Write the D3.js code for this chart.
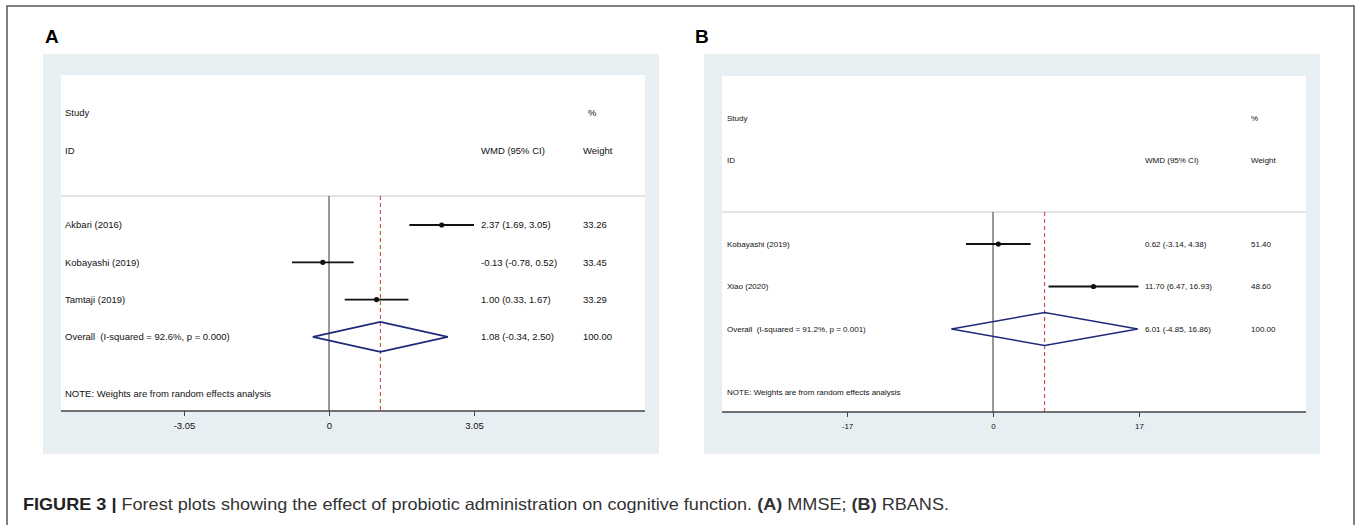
<!DOCTYPE html>
<html>
<head>
<meta charset="utf-8">
<script src="https://cdn.jsdelivr.net/npm/d3@7/dist/d3.min.js"></script>
<style>
  html, body { margin: 0; padding: 0; background: #ffffff; }
  svg { display: block; font-family: "Liberation Sans", Arial, Helvetica, sans-serif; }
</style>
</head>
<body>
<svg id="chart" width="1357" height="525"></svg>
<script>
// ---------- DATA ----------
// Panel A (MMSE)
const studiesA = ["Akbari (2016)", "Kobayashi (2019)", "Tamtaji (2019)"];
const estA = [2.37, -0.13, 1.00];
const lowA = [1.69, -0.78, 0.33];
const highA = [3.05, 0.52, 1.67];
const weightA = [33.26, 33.45, 33.29];
const overallA = [1.08, -0.34, 2.50];
const overallLabelA = "Overall  (I-squared = 92.6%, p = 0.000)";
const ticksA = [-3.05, 0, 3.05];

// Panel B (RBANS)
const studiesB = ["Kobayashi (2019)", "Xiao (2020)"];
const estB = [0.62, 11.70];
const lowB = [-3.14, 6.47];
const highB = [4.38, 16.93];
const weightB = [51.40, 48.60];
const overallB = [6.01, -4.85, 16.86];
const overallLabelB = "Overall  (I-squared = 91.2%, p = 0.001)";
const ticksB = [-17, 0, 17];

const noteText = "NOTE: Weights are from random effects analysis";
const headers = { study: "Study", id: "ID", wmd: "WMD (95% CI)", pct: "%", weight: "Weight" };

// ---------- DRAW ----------
const svg = d3.select("#chart");
const loc = d3.formatLocale({ decimal: ".", thousands: ",", grouping: [3], currency: ["", ""], minus: "-" });
const f2 = loc.format(".2f");

// outer frame
svg.append("rect").attr("x", 7).attr("y", 6).attr("width", 1347).attr("height", 540)
  .attr("fill", "none").attr("stroke", "#555").attr("stroke-width", 1.5);

function drawPanel(cfg) {
  const g = svg.append("g");
  g.append("text").attr("x", cfg.labelX).attr("y", 43).text(cfg.letter)
    .attr("font-size", 19).attr("font-weight", "bold").attr("fill", "#000");
  g.append("rect").attr("x", cfg.bgX0).attr("y", 54).attr("width", cfg.bgX1 - cfg.bgX0).attr("height", 400)
    .attr("fill", "#e7eff2");
  g.append("rect").attr("x", cfg.wX0).attr("y", cfg.wY0).attr("width", cfg.wX1 - cfg.wX0).attr("height", cfg.axisY - cfg.wY0)
    .attr("fill", "#ffffff");

  const x = d3.scaleLinear().domain(cfg.tickDomain).range(cfg.tickRange);
  const fs = cfg.fontSize;
  const txt = (xx, yy, s) => g.append("text").attr("x", xx).attr("y", yy).attr("dy", "0.35em")
      .attr("font-size", fs).attr("fill", "#111").style("white-space", "pre").text(s);

  txt(cfg.colStudy, cfg.yStudy, headers.study);
  txt(cfg.colStudy, cfg.yID, headers.id);
  txt(cfg.colWMD, cfg.yID, headers.wmd);
  txt(cfg.colPct, cfg.yStudy, headers.pct);
  txt(cfg.colWeight, cfg.yID, headers.weight);

  g.append("line").attr("x1", cfg.wX0).attr("x2", cfg.wX1).attr("y1", cfg.ySep).attr("y2", cfg.ySep)
    .attr("stroke", "#c8c8c8").attr("stroke-width", 1.2);

  g.append("line").attr("x1", x(0)).attr("x2", x(0)).attr("y1", cfg.ySep).attr("y2", cfg.axisY)
    .attr("stroke", "#555").attr("stroke-width", 1.2);
  g.append("line").attr("x1", x(cfg.overall[0])).attr("x2", x(cfg.overall[0])).attr("y1", cfg.ySep).attr("y2", cfg.axisY)
    .attr("stroke", "#c0392b").attr("stroke-width", 1).attr("stroke-dasharray", "4,3");

  const rowY = i => cfg.yFirst + i * cfg.rowStep;

  cfg.studies.forEach((s, i) => {
    const y = rowY(i);
    txt(cfg.colStudy, y, s);
    g.append("line").attr("x1", x(cfg.low[i])).attr("x2", x(cfg.high[i])).attr("y1", y).attr("y2", y)
      .attr("stroke", "#111").attr("stroke-width", 1.8);
    g.append("circle").attr("cx", x(cfg.est[i])).attr("cy", y).attr("r", 2.6).attr("fill", "#111");
    txt(cfg.colWMD, y, `${f2(cfg.est[i])} (${f2(cfg.low[i])}, ${f2(cfg.high[i])})`);
    txt(cfg.colWeight, y, f2(cfg.weight[i]));
  });

  const yo = rowY(cfg.studies.length);
  txt(cfg.colStudy, yo, cfg.overallLabel);
  const [m, lo, hi] = cfg.overall;
  const h = cfg.diamondHalf;
  g.append("path")
    .attr("d", `M${x(lo)},${yo} L${x(m)},${yo - h} L${x(hi)},${yo} L${x(m)},${yo + h} Z`)
    .attr("fill", "none").attr("stroke", "#1f2a7a").attr("stroke-width", 1.6);
  txt(cfg.colWMD, yo, `${f2(m)} (${f2(lo)}, ${f2(hi)})`);
  txt(cfg.colWeight, yo, f2(100));

  txt(cfg.colStudy, cfg.yNote, noteText);

  g.append("line").attr("x1", cfg.wX0).attr("x2", cfg.wX1).attr("y1", cfg.axisY).attr("y2", cfg.axisY)
    .attr("stroke", "#444").attr("stroke-width", 1.5);
  const axis = d3.axisBottom(x).tickValues(cfg.ticks).tickSize(5).tickPadding(6)
    .tickFormat(d => d === 0 ? "0" : String(d));
  const ag = g.append("g").attr("transform", `translate(0,${cfg.axisY})`).call(axis);
  ag.select(".domain").remove();
  ag.selectAll(".tick line").attr("stroke", "#444");
  ag.selectAll(".tick text").attr("font-size", fs).attr("fill", "#111")
    .attr("font-family", "'Liberation Sans', Arial, sans-serif");
}

drawPanel({
  letter: "A", labelX: 45,
  bgX0: 43, bgX1: 659, wX0: 61, wX1: 645, wY0: 75, axisY: 411,
  tickDomain: [-3.05, 3.05], tickRange: [184, 474], ticks: ticksA,
  fontSize: 9.5,
  colStudy: 65, colWMD: 481, colPct: 588, colWeight: 583,
  yStudy: 113, yID: 151, ySep: 196, yFirst: 225, rowStep: 37.3, yNote: 394,
  diamondHalf: 15,
  studies: studiesA, est: estA, low: lowA, high: highA, weight: weightA,
  overall: overallA, overallLabel: overallLabelA
});

drawPanel({
  letter: "B", labelX: 695,
  bgX0: 704, bgX1: 1320, wX0: 722, wX1: 1306, wY0: 76, axisY: 412,
  tickDomain: [-17, 17], tickRange: [847, 1139], ticks: ticksB,
  fontSize: 8,
  colStudy: 727, colWMD: 1145, colPct: 1251, colWeight: 1251,
  yStudy: 118, yID: 160, ySep: 212, yFirst: 244, rowStep: 42.5, yNote: 392,
  diamondHalf: 16.5,
  studies: studiesB, est: estB, low: lowB, high: highB, weight: weightB,
  overall: overallB, overallLabel: overallLabelB
});

// caption
const cap = svg.append("text").attr("x", 23).attr("y", 510).attr("font-size", 16.5).attr("fill", "#333")
  .attr("textLength", 926).attr("lengthAdjust", "spacingAndGlyphs");
cap.append("tspan").attr("font-weight", "bold").attr("fill", "#222").text("FIGURE 3 | ");
cap.append("tspan").text("Forest plots showing the effect of probiotic administration on cognitive function. ");
cap.append("tspan").attr("font-weight", "bold").text("(A)");
cap.append("tspan").text(" MMSE; ");
cap.append("tspan").attr("font-weight", "bold").text("(B)");
cap.append("tspan").text(" RBANS.");
</script>
</body>
</html>
